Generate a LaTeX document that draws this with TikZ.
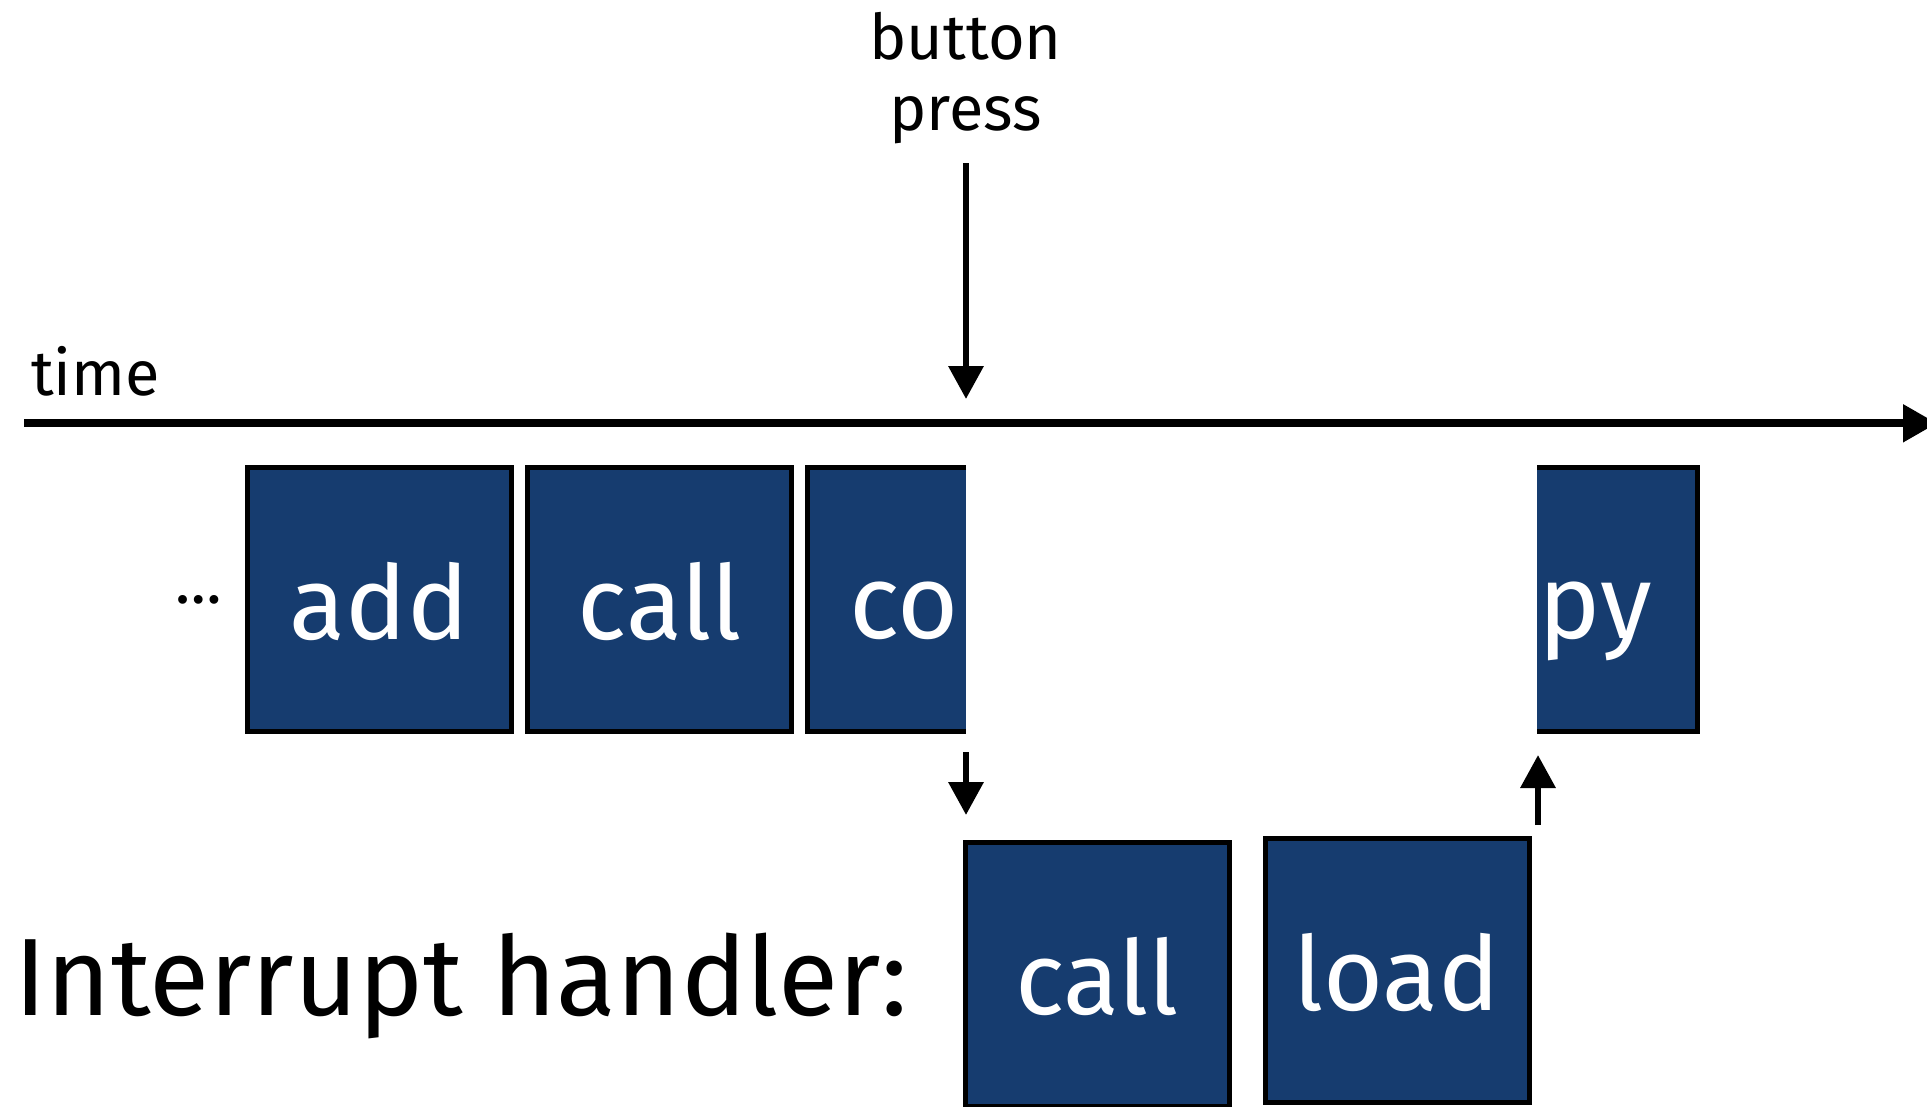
\documentclass[tikz,border=0pt]{standalone}
\usepackage{fontspec}
\setmainfont{Fira Sans}
\usepackage{tikz}
\usetikzlibrary{arrows.meta,positioning}
\definecolor{instblue}{HTML}{163C6F}

\begin{document}
\begin{tikzpicture}[x=1pt,y=-1pt,node distance=11pt,
	instr/.style={rectangle,draw,fill=instblue,line width=5pt,inner sep=0pt,
		minimum width=264pt,minimum height=264pt,text=white,
		text height=80pt,text depth=0pt,font=\fontsize{103}{120}\selectfont},
	part/.style={rectangle,fill=instblue,inner sep=0pt,outer sep=0pt,minimum height=264pt},
	parttext/.style={text=white,inner sep=0pt,anchor=base west,font=\fontsize{105}{120}\selectfont},
	lbl/.style={inner sep=0pt,font=\fontsize{63}{71}\selectfont},
	axis/.style={line width=8pt,-{Triangle[width=36pt,length=34pt]}},
	evt/.style={line width=6.5pt,-{Triangle[width=34pt,length=33pt]}}]
	\useasboundingbox (0,0) rectangle (1927,1106);
	% main program
	\node[instr] (add) at (379.5,599.5) {add};
	\node[instr] (call) [right=of add] {call};
	\node[part,minimum width=158.5pt] (co) at (886.75,599.5) {};
	\node[part,minimum width=160.5pt] (py) at (1617.25,599.5) {};
	\draw[line width=5pt] (co.north east) -| (co.south west) -- (co.south east);
	\draw[line width=5pt] (py.north west) -| (py.south east) -- (py.south west);
	\node[parttext] at (849,638) {co};
	\node[parttext] at (1538,638) {py};
	\node[lbl,anchor=base] (dots) at (198.5,603) {…};
	% handler
	\node[instr] (call2) at (1097,974.5) {call};
	\node[instr] (load) [right=31pt of call2,yshift=4pt] {load};
	\node[inner sep=0pt,anchor=base west,font=\fontsize{110}{130}\selectfont] (handler) at (14,1015) {Interrupt handler:};
	% time line and events
	\node[lbl,anchor=base west] (time) at (31,395) {time};
	\node[lbl,align=center,anchor=base] (press) at (965.5,130) {button\\press};
	\coordinate (t_0) at (24,423.3);
	\coordinate (t_1) at (1937,423.3);
	\coordinate (btn) at (966,163);
	\coordinate (hit) at (966,399);
	\coordinate (irq) at (966,752);
	\coordinate (irq_in) at (966,815);
	\coordinate (ret) at (1538,825);
	\coordinate (ret_out) at (1538,755);
	\draw[axis] (t_0) -- (t_1);
	\path[evt]
		(btn) edge (hit)
		(irq) edge (irq_in)
		(ret) edge (ret_out)
		;
\end{tikzpicture}
\end{document}
